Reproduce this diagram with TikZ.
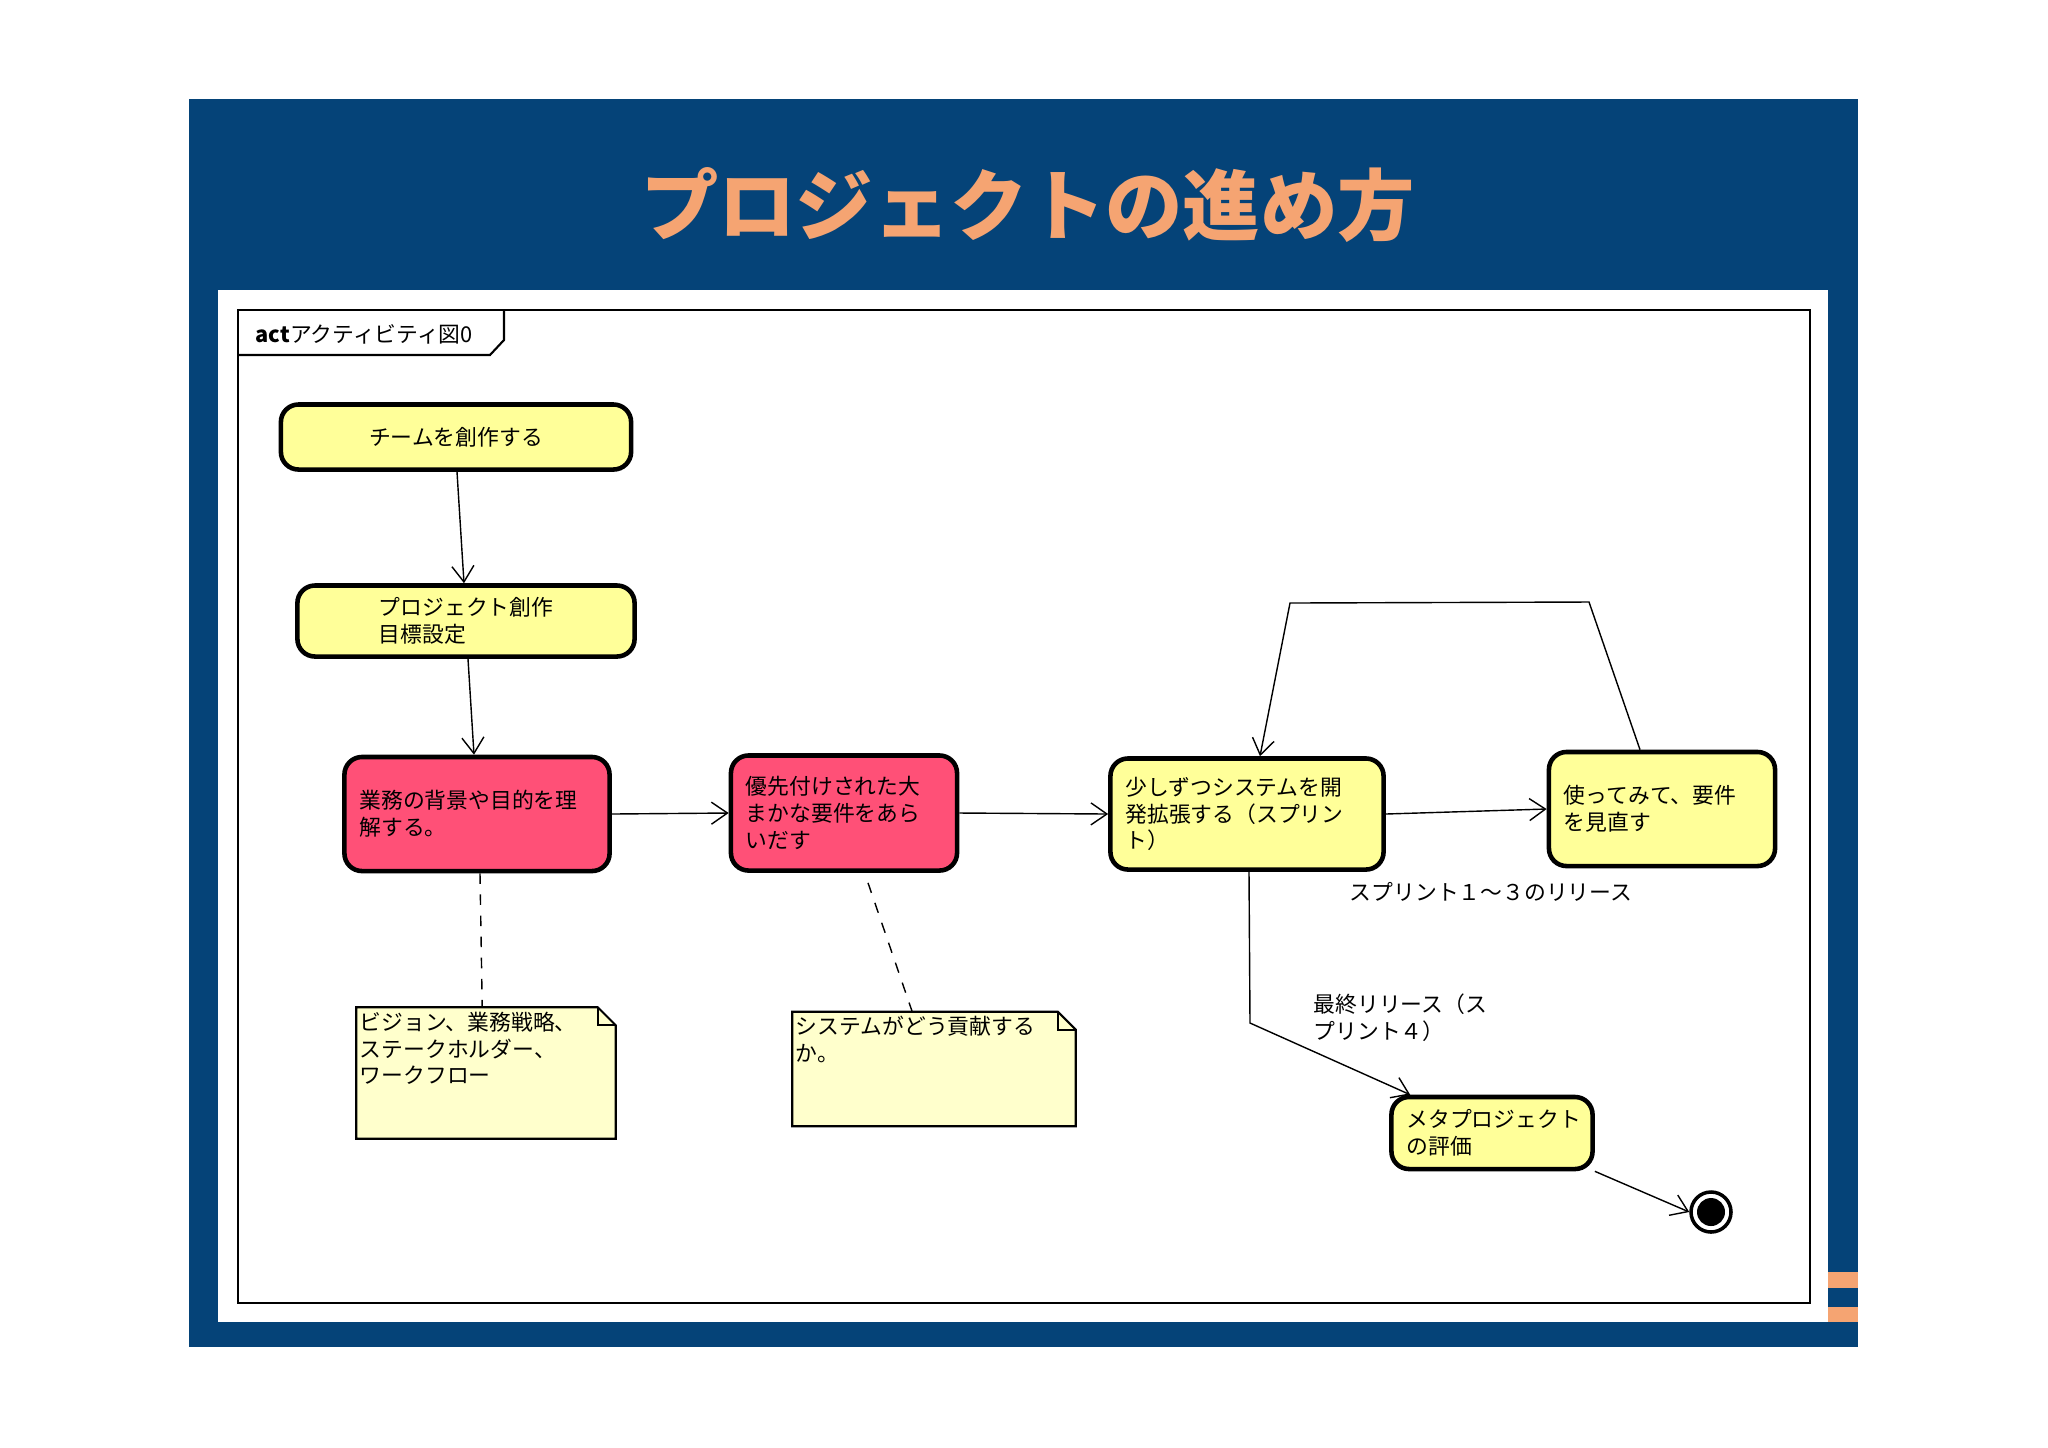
\documentclass[tikz,border=0pt]{standalone}
\usepackage{fontspec}
\setmainfont{Noto Sans CJK JP}
\usetikzlibrary{arrows.meta,calc}
\definecolor{slideblue}{HTML}{054378}
\definecolor{titleorange}{HTML}{F5A472}
\definecolor{actyellow}{HTML}{FFFF99}
\definecolor{actred}{HTML}{FF5077}
\definecolor{noteyellow}{HTML}{FFFFCC}

\begin{document}
\begin{tikzpicture}[x=0.01cm, y=-0.01cm]
	\tikzstyle{action} = [draw, line width=1.3pt, rounded corners=5pt, fill=actyellow, font=\fontsize{6.2}{7.6}\selectfont, align=left, inner sep=0pt]
	\tikzstyle{hot} = [action, fill=actred]
	\tikzstyle{flow} = [-{Straight Barb[length=0.16cm, width=0.22cm]}, line width=0.4pt]
	\tikzstyle{txt} = [font=\fontsize{6.2}{7.6}\selectfont, align=left, inner sep=0pt]
	\useasboundingbox (0,0) rectangle (2048,1447);
	\fill[white] (0,0) rectangle (2048,1447);
	%%Slide
	\fill[slideblue] (189,99) rectangle (1858,1347);
	\fill[white] (218,290) rectangle (1828,1322);
	\fill[titleorange] (1828,1272) rectangle (1858,1288);
	\fill[titleorange] (1828,1307) rectangle (1858,1322);
	\node[text=titleorange, font=\fontsize{22}{24}\selectfont\bfseries] (title) at (1028,205) {プロジェクトの進め方};
	%%Frame
	\draw[line width=0.8pt] (238,310) rectangle (1810,1303);
	\draw[line width=0.6pt] (238,355) -- (490,355) -- (504,340) -- (504,310);
	\node[txt, anchor=west] (tag) at (255,334) {\textbf{act}アクティビティ図0};

	\node[action, minimum width=3.5cm, minimum height=0.65cm, align=center] (team) at (456,437) {チームを創作する};
	\node[action, minimum width=3.37cm, minimum height=0.71cm] (proj) at (466,621) {プロジェクト創作\\目標設定};
	\node[hot, minimum width=2.65cm, minimum height=1.14cm, text width=2.35cm] (bg) at (477,814) {業務の背景や目的を理\\解する。};
	\node[hot, minimum width=2.26cm, minimum height=1.15cm, text width=1.96cm] (req) at (844,813) {優先付けされた大\\まかな要件をあら\\いだす};
	\node[action, minimum width=2.73cm, minimum height=1.11cm, text width=2.43cm] (dev) at (1247,814) {少しずつシステムを開\\発拡張する（スプリン\\ト）};
	\node[action, minimum width=2.26cm, minimum height=1.14cm, text width=1.96cm] (use) at (1662,809) {使ってみて、要件\\を見直す};
	\node[action, minimum width=2.01cm, minimum height=0.72cm, text width=1.71cm] (meta) at (1492,1133) {メタプロジェクト\\の評価};
	\node[circle, draw, line width=1pt, minimum size=0.4cm, fill=white, inner sep=0pt] (end) at (1711,1212) {};
	\fill (end) circle (14);

	%%Notes
	\node[minimum width=2.58cm, minimum height=1.3cm, inner sep=0pt] (n1) at (486,1073) {};
	\node[minimum width=2.82cm, minimum height=1.13cm, inner sep=0pt] (n2) at (934,1069) {};
	\draw[fill=noteyellow, line width=0.6pt] (n1.north west) -- ($(n1.north east)+(-18,0)$) -- ++(18,18) -- (n1.south east) -- (n1.south west) -- cycle;
	\draw[line width=0.6pt] ($(n1.north east)+(-18,0)$) |- ++(18,18);
	\draw[fill=noteyellow, line width=0.6pt] (n2.north west) -- ($(n2.north east)+(-18,0)$) -- ++(18,18) -- (n2.south east) -- (n2.south west) -- cycle;
	\draw[line width=0.6pt] ($(n2.north east)+(-18,0)$) |- ++(18,18);
	\node[txt, anchor=north west] (t1) at ($(n1.north west)+(3,4)$) {ビジョン、業務戦略、\\ステークホルダー、\\ワークフロー};
	\node[txt, anchor=north west] (t2) at ($(n2.north west)+(3,4)$) {システムがどう貢献する\\か。};

	%%Labels
	\node[txt] (l1) at (1491,892) {スプリント１～３のリリース};
	\node[txt, anchor=north west] (l2) at (1313,993) {最終リリース（ス\\プリント４）};

	\coordinate (loopR) at (1589,602);
	\coordinate (loopL) at (1290,603);
	\coordinate (bend) at (1250,1023);

	\draw[flow] ($(team.south)+(1,0)$) -- ($(proj.north)+(-2,0)$);
	\draw[flow] ($(proj.south)+(2,0)$) -- ($(bg.north)+(-3,0)$);
	\draw[flow] (bg.east) -- (req.west);
	\draw[flow] (req.east) -- (dev.west);
	\draw[flow] (dev.east) -- (use.west);
	\draw[flow] ($(use.north)+(-22,0)$) -- (loopR) -- (loopL) -- ($(dev.north)+(13,0)$);
	\draw[flow] ($(dev.south)+(2,0)$) -- (bend) -- ($(meta.north west)+(21,0)$);
	\draw[flow] (meta.south east) -- (end.west);
	\draw[dashed] ($(bg.south)+(3,0)$) -- ($(n1.north west)+(126,0)$);
	\draw[dashed] ($(req.south)+(24,10)$) -- ($(n2.north west)+(120,0)$);
\end{tikzpicture}
\end{document}
